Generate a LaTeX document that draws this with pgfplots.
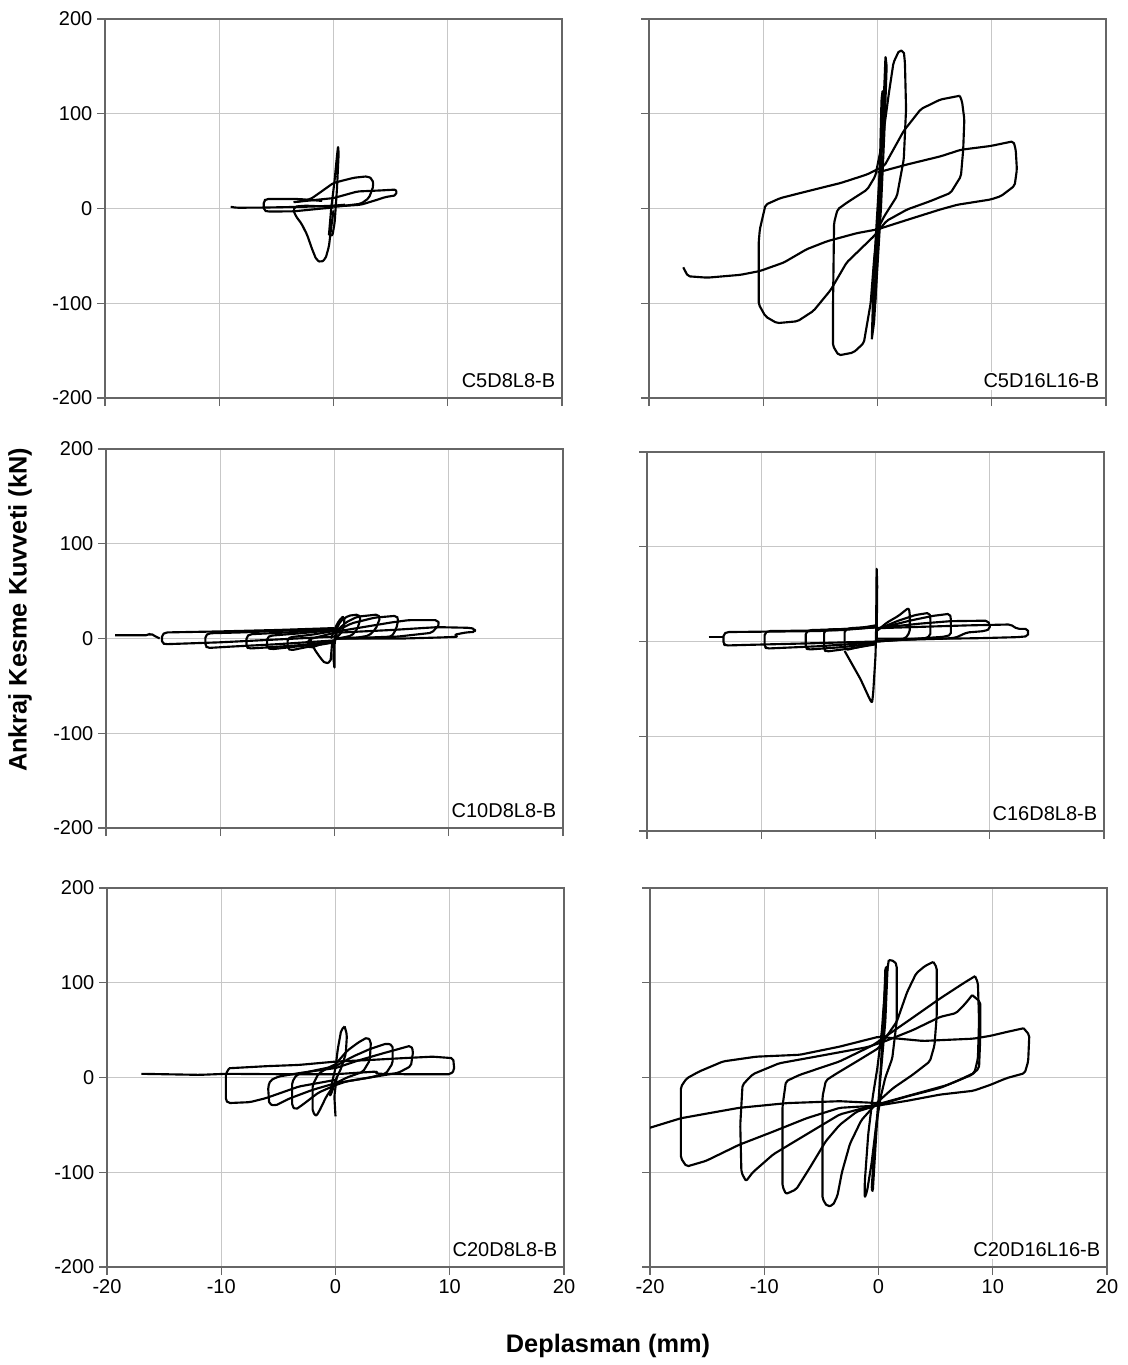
\documentclass[border=0pt]{standalone}
\usepackage{fontspec}
\setmainfont{Liberation Sans}
\usepackage{pgfplots}
\pgfplotsset{compat=1.18}

\pgfplotsset{
  panel/.style={
    scale only axis, width=342.75pt, height=284.25pt, anchor=south west,
    xmin=-20, xmax=20, ymin=-200, ymax=200,
    xtick={-20,-10,0,10,20}, ytick={-200,-100,0,100,200},
    grid=major, major grid style={black!22, line width=0.7pt},
    axis line style={black!60, line width=0.9pt},
    tick style={black!60, line width=0.9pt},
    tick align=outside, major tick length=6pt,
    xtick pos=bottom, ytick pos=left,
    /pgf/number format/assume math mode=true,
    ticklabel style={font=\fontsize{15}{17}\selectfont},
    every axis plot post/.append style={black, solid, mark=none, line width=1.6pt, line join=round, rounded corners=1.5pt},
  },
  nox/.style={xticklabels={}},
  noy/.style={yticklabels={}},
}
\newcommand{\tag}[1]{\node[anchor=south east, fill=white, inner sep=1.5pt,
  font=\fontsize{15}{17}\selectfont] at (rel axis cs:0.99,0.02) {#1};}

\begin{document}
\begin{tikzpicture}
\path (0,0) rectangle (846pt,-1023.75pt);

% C5D8L8-B
\begin{axis}[panel, nox, at={(78.75pt,-298.5pt)}]
\addplot coordinates {(-9.0,1.8) (-8.5,0.8) (-6.1,1) (-4,1.5) (-2,2) (0,3) (1,4)};
\addplot coordinates {(-1,8) (-3,10) (-5.9,10) (-6.1,8) (-6.1,-2) (-5.8,-3.2) (-3.5,-3) (-1,0) (0,1)};
\addplot coordinates {(0.2,3) (-0.5,2) (-2.5,3) (-3.4,2) (-3.5,-2) (-3.3,-8) (-2.8,-16) (-2.3,-28) (-1.9,-42) (-1.5,-54) (-1.1,-57) (-0.7,-53) (-0.4,-40) (-0.2,-20) (0,-2)};
\addplot coordinates {(-3.2,7) (-2,10) (-1.4,15) (0,27) (1.8,32.5) (3,34) (3.4,31) (3.5,24) (3.1,11) (2.4,5) (1,3) (0,2)};
\addplot coordinates {(-3.5,6.7) (0,11) (2.1,18) (4,19) (5.5,20) (5.5,14) (4.5,12) (3.9,9.5) (2.4,4) (0,2)};
\addplot coordinates {(-0.4,-28) (-0.2,0) (0.1,30) (0.3,55) (0.4,66) (0.45,58) (0.3,20) (0.1,-15) (-0.1,-29) (-0.4,-28)};
\tag{C5D8L8-B}
\end{axis}

% C5D16L16-B
\begin{axis}[panel, nox, noy, at={(486.75pt,-298.5pt)}]
\addplot coordinates {(7.2,119) (7.4,113) (7.6,94) (7.5,62) (7.3,34) (6.4,16.5) (4.6,7.7) (2.6,-1) (0.8,-13) (-0.3,-29) (-2.7,-57) (-4.1,-86) (-5.6,-108) (-7,-119) (-8.8,-121) (-9.8,-114) (-10.4,-101) (-10.4,-36) (-10.3,-22) (-9.8,4) (-8.5,11) (-6.2,18) (-3.2,27) (-0.9,36) (0.6,45) (2.3,82) (3.8,105) (5.5,115) (7.2,119)};
\addplot coordinates {(0,38) (2.6,46.5) (5.5,55) (7.3,62) (9.9,66) (11.1,69) (11.9,71) (12.1,62) (12.2,41) (12,24) (10.8,13) (9.9,9.5) (7,4) (5.5,-1) (2.6,-12) (0,-22) (-1.8,-26) (-4.4,-34.5) (-6.2,-43) (-8.2,-57) (-10.3,-66) (-12,-70) (-14.9,-73) (-16.6,-71.5) (-17,-62)};
\addplot coordinates {(0,-22) (-0.3,-54) (-0.6,-100) (-1.2,-142) (-2.1,-152) (-3.4,-155) (-3.9,-145) (-3.9,-107) (-3.8,-15) (-3.5,-1) (-2.7,6) (-0.9,20) (-0.2,34) (0.4,69) (1.0,122) (1.4,154) (1.9,167) (2.3,166) (2.4,154) (2.5,105) (2.3,52) (1.7,13) (0.6,-8) (0,-22)};
\addplot coordinates {(-0.5,-138) (-0.3,-60) (0,0) (0.3,60) (0.6,130) (0.7,161) (0.8,150) (0.6,80) (0.3,0) (0,-60) (-0.3,-120) (-0.5,-138)};
\addplot coordinates {(-0.3,-105) (0,-20) (0.2,40) (0.35,115) (0.45,125) (0.5,105) (0.25,20) (0,-50) (-0.2,-100) (-0.3,-105)};
\tag{C5D16L16-B}
\end{axis}

% C10D8L8-B
\begin{axis}[panel, nox, at={(79.5pt,-621pt)}]
\addplot coordinates {(-19.2,3.5) (-16.3,3.5) (-16.1,5.5) (-15.8,3) (-15.3,0)};
\addplot coordinates {(0,2) (-5,-1) (-10,-4) (-14.8,-6) (-15.1,-5) (-15.1,4) (-14.8,6.4) (-10,7.5) (-5,9) (0,11)};
\addplot coordinates {(0,-2) (-5,-6) (-9,-8.5) (-11.1,-10) (-11.3,-8) (-11.3,3) (-11,5.5) (-8,6.5) (-4,8.5) (0,10.5)};
\addplot coordinates {(0,-3) (-3,-7) (-6,-9.5) (-7.5,-10.6) (-7.7,-9) (-7.7,2) (-7.4,4.5) (-4,6.5) (0,10)};
\addplot coordinates {(0,-4) (-3,-8) (-5.5,-11.3) (-5.9,-10) (-5.9,1) (-5.6,3) (-3,5.5) (0,9)};
\addplot coordinates {(0,-4) (-2,-8) (-3.8,-12.4) (-4.1,-11) (-4.1,0) (-3.8,1.5) (-2,4) (0,8)};
\addplot coordinates {(0,-3) (-1.2,-6) (-2.1,-10) (-2.3,-8) (-2.3,-1) (-1,3) (0,6)};
\addplot coordinates {(-2.1,-1) (-1.8,-10.6) (-1.2,-21) (-0.8,-26.5) (-0.35,-24.7) (-0.2,-3.5)};
\addplot coordinates {(0.2,5) (0,-5) (0,-31.8) (-0.1,-20) (0,0) (0.3,15)};
\addplot coordinates {(-0.3,0) (0.2,15) (0.6,22) (0.8,23) (0.9,18) (0.7,8) (0.3,2) (0,0)};
\addplot coordinates {(0,5) (0.5,18) (1.2,24) (2.1,25.4) (2.3,22) (2.0,10) (1.5,3) (0.5,0.5) (0,0)};
\addplot coordinates {(0,6) (1,17) (2,23) (3.8,25.4) (4.0,22) (3.6,10) (3,3) (2,1) (0,0)};
\addplot coordinates {(0,7) (1.5,16) (3.5,22) (5.4,24) (5.6,21) (5.4,10) (5,2) (3,1) (0,0)};
\addplot coordinates {(0,7) (3,13) (5,17) (6.5,19.4) (9,19.4) (9.2,15) (8.5,6) (7,4) (5.5,2) (3,0.5) (0,0)};
\addplot coordinates {(0,6) (5,9) (9,12) (11.8,11.3) (12.3,10) (12.3,7) (11.5,6.4) (10.5,4) (10.8,1.8) (9,1) (6,0) (3,0) (0,0)};
\tag{C10D8L8-B}
\end{axis}

% C16D8L8-B
\begin{axis}[panel, nox, noy, at={(485.25pt,-623.25pt)}]
\addplot coordinates {(-14.6,4.6) (-13.3,4.6)};
\addplot coordinates {(0,0) (-6,-2) (-11,-3.5) (-13.1,-4.2) (-13.3,-3) (-13.3,8) (-13,10) (-9,10.5) (-5,11) (0,15)};
\addplot coordinates {(0,-1) (-5,-5) (-9.5,-7.4) (-9.7,-6) (-9.7,9) (-9.4,11) (-6,11.5) (-3,12) (0,15)};
\addplot coordinates {(0,-2) (-3,-6) (-5.9,-8.5) (-6.1,-7) (-6.1,10) (-5.8,12) (-3,13) (0,15)};
\addplot coordinates {(0,-3) (-2,-7) (-4.3,-10.6) (-4.5,-9) (-4.5,11) (-4.2,12.7) (-2,13.5) (0,16)};
\addplot coordinates {(0,-2) (-1.5,-6) (-2.6,-9) (-2.7,-6) (-2.7,12) (-2.3,14) (-1,15) (0,17)};
\addplot coordinates {(-2.7,-10) (-1.3,-40) (-0.5,-61) (-0.3,-65) (-0.2,-54) (0,-15) (0.05,10) (0.1,78) (0.15,60) (0.1,0)};
\addplot coordinates {(0,10) (1,20) (2,27) (2.9,35.6) (3.0,30) (3.0,10) (2.6,3) (1,1) (0,0)};
\addplot coordinates {(0,12) (2,22) (3.5,28) (4.7,30.3) (4.8,26) (4.8,6) (4.3,3) (2,1.5) (0,0)};
\addplot coordinates {(0,13) (3,22) (5,27) (6.5,29.3) (6.6,25) (6.6,7) (6,5) (3,2.5) (0,0)};
\addplot coordinates {(0,14) (4,19) (6.6,21.5) (9.8,22) (10,18) (10,13) (9.5,11) (8,9.5) (7,4) (6,3) (3,2) (0,1)};
\addplot coordinates {(0,14) (4,15.5) (8,17) (10,17.5) (11.8,18) (12.4,13.4) (13.3,13.4) (13.4,9) (13.3,5.5) (12.4,4.6) (9,3.5) (6,3) (3,3) (0,3)};
\tag{C16D8L8-B}
\end{axis}

% C20D8L8-B
\begin{axis}[panel, at={(80.25pt,-950.25pt)}]
\addplot coordinates {(-9.3,9.8) (-6,12) (-3.2,13.3) (0,16.8) (3,18.5) (6,20.5) (8.5,22) (10.3,20.4) (10.4,8) (10.1,3.5) (6,3.5) (3.6,4) (3.6,6.3) (0,3.5) (-5,3.5) (-9.6,3.9) (-11.9,2.8) (-17,3.9)};
\addplot coordinates {(0,-2.5) (-3.2,-9.5) (-6.1,-21.8) (-7.5,-26) (-9.4,-27) (-9.6,-24) (-9.6,4) (-9.3,9.8)};
\addplot coordinates {(0,10) (2,18) (4,25) (5.8,31) (6.6,33.7) (6.8,28) (6.6,12) (5.5,5) (3,0) (0,-6) (-2,-13) (-4,-22) (-5.3,-29.8) (-5.8,-28) (-5.9,-10) (-5.7,-3) (-5,1) (-3,5) (0,10)};
\addplot coordinates {(0,12) (1.5,22) (3,30) (4.5,36) (5.0,34) (5.0,15) (4.4,4) (3,0) (1,-4) (0,-8) (-1.5,-16) (-2.8,-28) (-3.5,-34) (-3.8,-30) (-3.8,-5) (-3.4,3) (-2,7) (0,12)};
\addplot coordinates {(0,14) (1,28) (2,37) (2.8,42.5) (3.1,38) (3.0,18) (2.4,6) (1,0) (0,-6) (-0.8,-20) (-1.4,-35) (-1.7,-41) (-2.0,-36) (-2.0,-8) (-1.5,4) (-0.7,10) (0,14)};
\addplot coordinates {(0.8,54) (1.0,45) (0.9,25) (0.5,10) (0,-3) (-0.3,-15) (-0.5,-20) (-0.3,-5) (0,10) (0.2,30) (0.5,50) (0.8,54)};
\addplot coordinates {(0.1,0) (-0.1,-20) (0,-41)};
\tag{C20D8L8-B}
\end{axis}

% C20D16L16-B
\begin{axis}[panel, noy, at={(487.5pt,-950.25pt)}]
\addplot coordinates {(0.9,124) (1.4,123) (1.6,118) (1.6,60) (1.2,20) (0.6,0) (0.2,-20) (-0.2,-50) (-0.6,-90) (-1.0,-120) (-1.2,-127) (-1.2,-110) (-0.9,-60) (-0.5,-20) (-0.1,10) (0.3,50) (0.6,100) (0.9,124)};
\addplot coordinates {(0.6,115) (0.8,118) (0.6,60) (0.1,-10) (-0.4,-80) (-0.6,-118) (-0.5,-120) (-0.2,-60) (0.2,10) (0.5,80) (0.6,115)};
\addplot coordinates {(4.8,122) (5.1,116) (5.1,66) (4.9,34) (4.5,17) (3.0,3) (1.3,-11) (0,-25) (-1.5,-45) (-2.5,-70) (-3.2,-100) (-3.6,-125) (-4.0,-135) (-4.5,-136) (-4.9,-128) (-4.9,-100) (-4.9,-20) (-4.6,-3) (-3.7,4) (-1.9,17) (0,31) (1.6,59) (2.5,90) (3.3,110) (4.1,118) (4.8,122)};
\addplot coordinates {(8.45,107) (8.7,100) (8.8,60) (8.7,20) (8.4,5) (7,-3) (5.4,-11) (2.5,-20) (0,-29) (-1.9,-36) (-3.4,-50) (-4.6,-67) (-6,-95) (-7.2,-118) (-8.1,-123) (-8.4,-115) (-8.4,-30) (-8.1,-4) (-6.9,2.8) (-3.4,17) (-0.5,34) (2.5,59) (5.4,83.5) (7.5,100) (8.45,107)};
\addplot coordinates {(8.2,87) (8.9,80) (8.9,40) (8.8,10) (8.2,3) (6,-8) (3,-18) (0,-28) (-3.4,-39) (-6.3,-60) (-9.2,-81) (-11,-100) (-11.6,-109.5) (-12.0,-100) (-12.1,-50) (-11.9,-7.7) (-11,3.5) (-8.7,15) (-4.6,24) (-1,32) (0.5,38) (3,50) (5.4,64) (6.8,68) (7.6,78) (8.2,87)};
\addplot coordinates {(12.7,52) (13.2,45) (13.1,17) (12.8,4.6) (11.2,-0.7) (9.8,-7.7) (8.3,-14) (5.4,-18) (2.5,-24.6) (0,-29.5) (-3.4,-32) (-6.3,-43) (-9.2,-57) (-12.2,-71) (-15.1,-88) (-16.8,-94) (-17.3,-85) (-17.3,-10) (-16.8,-1) (-15.7,6.3) (-13.6,17) (-10.7,22) (-6.9,24) (-3.4,32.6) (0,43) (3.9,38.6) (8.3,41) (9.8,44) (11.2,48) (12.7,52)};
\addplot coordinates {(0,-27) (-3.4,-25) (-8,-27) (-12.2,-32) (-15,-38) (-17.3,-43) (-20,-53)};
\tag{C20D16L16-B}
\end{axis}

\node[rotate=90, font=\fontsize{19}{21}\selectfont\bfseries] at (15pt,-457.5pt) {Ankraj Kesme Kuvveti (kN)};
\node[font=\fontsize{19}{21}\selectfont\bfseries] at (456pt,-1009.5pt) {Deplasman (mm)};
\end{tikzpicture}
\end{document}
